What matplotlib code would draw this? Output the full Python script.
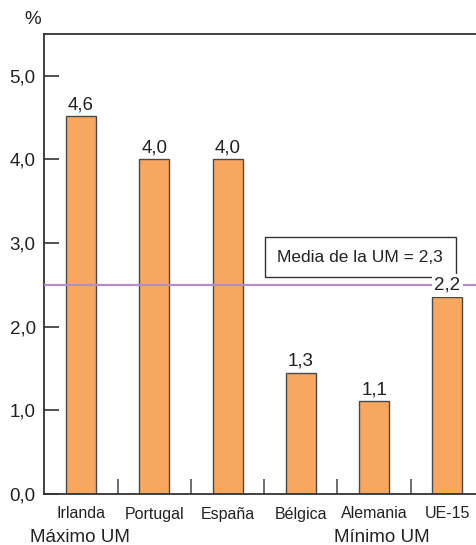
import matplotlib
matplotlib.use("Agg")
import matplotlib.pyplot as plt
import numpy as np

plt.rcParams['font.family'] = ['Liberation Sans', 'DejaVu Sans']

categories = ["Irlanda", "Portugal", "España", "Bélgica", "Alemania", "UE-15"]
values = [4.52, 4.0, 4.0, 1.45, 1.11, 2.36]
value_labels = ["4,6", "4,0", "4,0", "1,3", "1,1", "2,2"]
mean_value = 2.5
mean_label = "Media de la UM = 2,3"
yticks = [0, 1, 2, 3, 4, 5]
ytick_labels = ["0,0", "1,0", "2,0", "3,0", "4,0", "5,0"]

bar_color = "#F7A85E"
edge_color = "#4a4a4a"
line_color = "#B48CC6"
spine_color = "#333333"
text_color = "#222222"

fig = plt.figure(figsize=(4.76, 5.45), dpi=100)
ax = fig.add_axes([44 / 476, 1 - 494 / 545, 1 - 44 / 476, (494 - 34) / 545])

x = np.arange(len(categories))
ax.bar(x, values, width=0.41, color=bar_color, edgecolor=edge_color, linewidth=1.0, zorder=2)
ax.set_xlim(-0.505, 5.39)
ax.set_ylim(0, 5.5)

ax.axhline(mean_value, color=line_color, linewidth=1.6, zorder=3)

for xi, v, lab in zip(x, values, value_labels):
    ax.annotate(lab, (xi, v), xytext=(0, 2), textcoords="offset points",
                ha="center", va="bottom", fontsize=13.5, color=text_color, zorder=5,
                bbox=dict(boxstyle="square,pad=0.15", fc="white", ec="none") if lab == "2,2" else None)

ax.text(3.81, 2.83, mean_label, ha="center", va="center", fontsize=12.5, color=text_color,
        bbox=dict(boxstyle="square,pad=0.72", fc="white", ec="#333333", lw=1.0), zorder=4)

ax.spines["right"].set_visible(False)
for side in ["left", "top", "bottom"]:
    ax.spines[side].set_color(spine_color)
    ax.spines[side].set_linewidth(1.3)

ax.set_yticks(yticks)
ax.set_yticklabels(ytick_labels, fontsize=13.5, color=text_color)
ax.tick_params(axis="y", direction="in", length=11, width=1.2, color=spine_color, pad=6)

ax.set_xticks(x)
ax.set_xticklabels(categories, fontsize=11.5, color=text_color)
ax.tick_params(axis="x", which="major", length=0, pad=9)
ax.set_xticks(x[:-1] + 0.5, minor=True)
ax.tick_params(axis="x", which="minor", direction="in", length=11, width=1.2, color="#555555")

fig.text(33 / 476, 1 - 20 / 545, "%", ha="center", va="center", fontsize=13.5, color=text_color)
fig.text(80 / 476, 1 - 537 / 545, "Máximo UM", ha="center", va="center", fontsize=13.5, color=text_color)
fig.text(382 / 476, 1 - 537 / 545, "Mínimo UM", ha="center", va="center", fontsize=13.5, color=text_color)

fig.savefig("out.png", dpi=100)
